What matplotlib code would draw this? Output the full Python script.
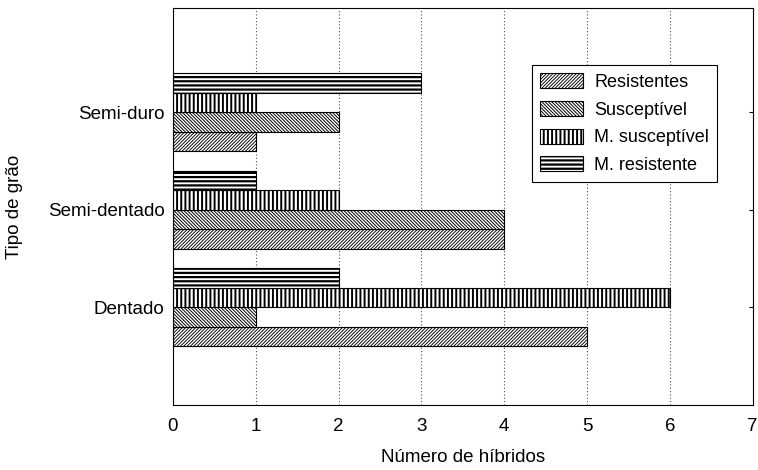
import numpy as np
import matplotlib.pyplot as plt

plt.rcParams['font.family'] = ['Liberation Sans', 'DejaVu Sans']

categories = ['Dentado', 'Semi-dentado', 'Semi-duro']
series = ['Resistentes', 'Susceptível', 'M. susceptível', 'M. resistente']
resistentes = [5, 4, 1]
susceptivel = [1, 4, 2]
m_susceptivel = [6, 2, 1]
m_resistente = [2, 1, 3]

values = [resistentes, susceptivel, m_susceptivel, m_resistente]
hatches = ['//////////', '\\\\\\\\\\\\\\\\\\\\', '||||', '----']
hatch_lw = [0.65, 0.7, 1.4, 1.6]

fig = plt.figure(figsize=(7.58, 4.70), dpi=100)
ax = fig.add_axes([0.228, 0.138, 0.765, 0.845])

y = np.arange(len(categories))
h = 0.2
offsets = [-0.3, -0.1, 0.1, 0.3]
for vals, off, hatch, lw, name in zip(values, offsets, hatches, hatch_lw, series):
    with plt.rc_context({'hatch.linewidth': lw}):
        ax.barh(y + off, vals, height=h, color='white', edgecolor='black',
                linewidth=0.8, hatch=hatch, label=name)

ax.set_xlim(0, 7)
ax.set_ylim(-1.005, 3.067)
ax.set_xticks(range(8))
ax.set_yticks(y)
ax.set_yticklabels(categories)
ax.tick_params(labelsize=13.5, direction='in', right=True, length=3, pad=6)
ax.tick_params(axis='x', length=0, pad=9)
ax.xaxis.grid(True, linestyle=(0, (1, 2)), color='0.3', linewidth=0.8)
ax.set_axisbelow(True)
ax.set_xlabel('Número de híbridos', fontsize=13.5, labelpad=10)
ax.set_ylabel('Tipo de grão', fontsize=13.5, labelpad=18)

leg = ax.legend(loc='upper left', bbox_to_anchor=(0.619, 0.856), fontsize=13,
                fancybox=False, edgecolor='black', framealpha=1,
                handlelength=2.4, handleheight=0.9, labelspacing=0.55,
                borderpad=0.45, handletextpad=0.6, borderaxespad=0)
leg.get_frame().set_linewidth(0.8)
for handle, lw in zip(leg.legend_handles, hatch_lw):
    if hasattr(handle, 'set_hatch_linewidth'):
        handle.set_hatch_linewidth(lw)

fig.savefig('out.png', dpi=100)
